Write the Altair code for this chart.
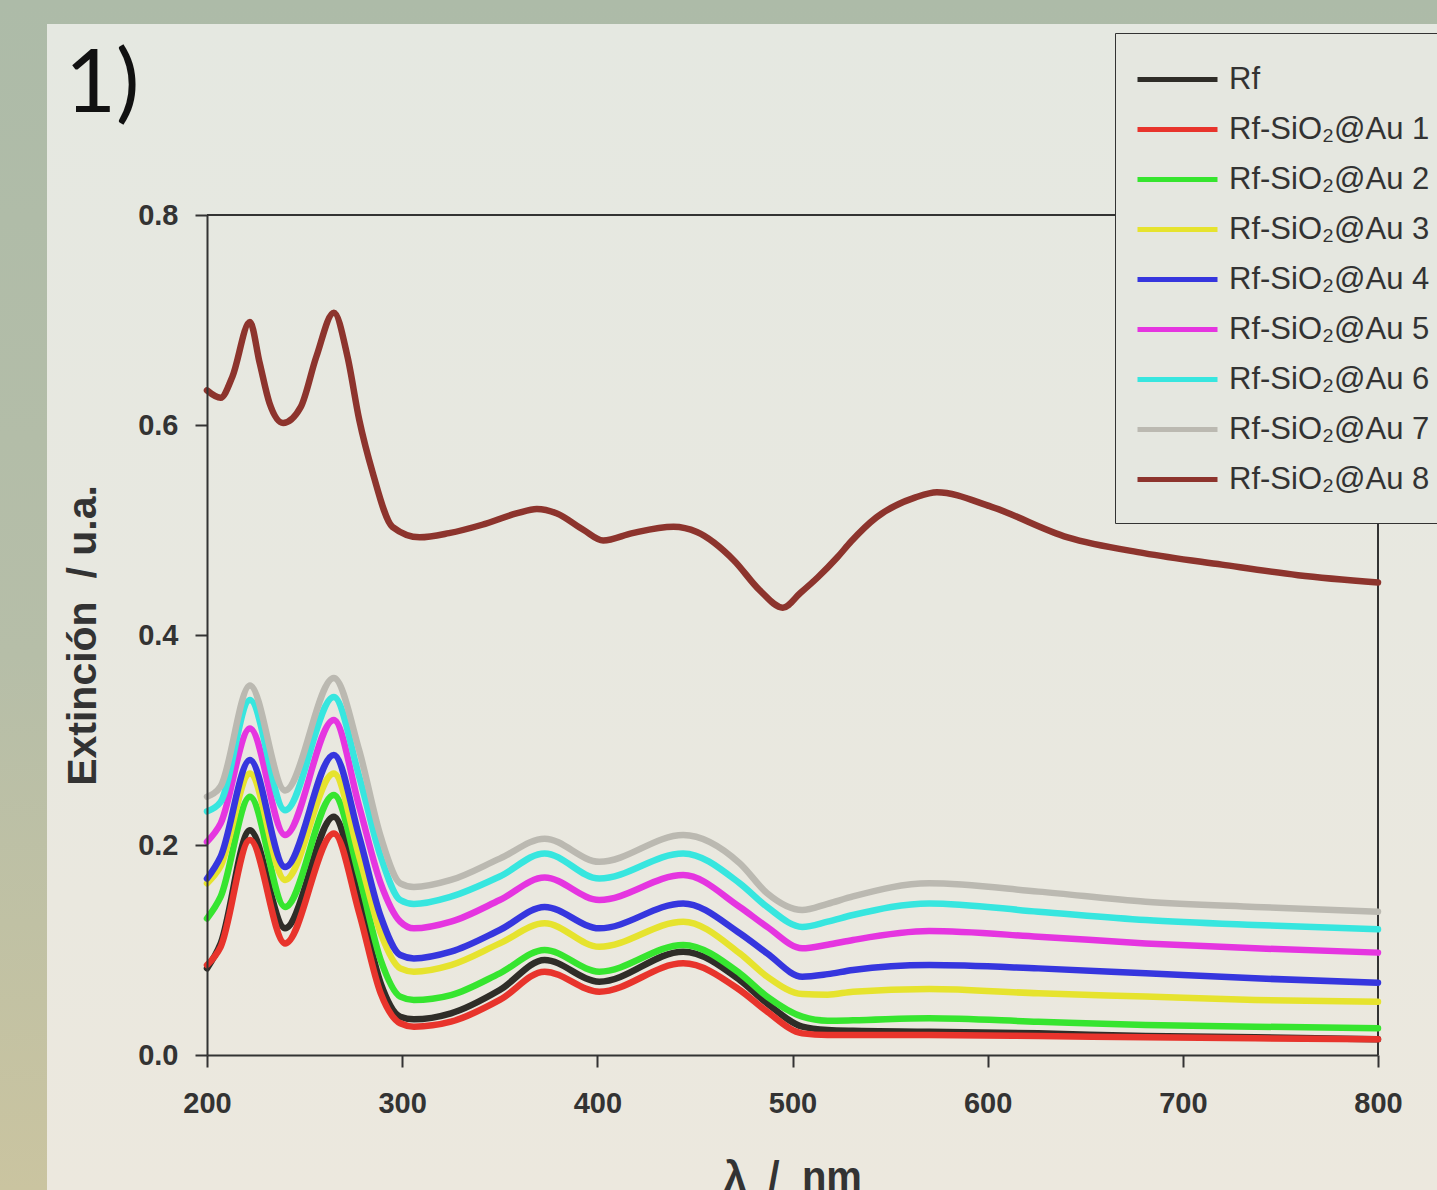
import altair as alt
import pandas as pd

# Wavelength grid (nm) for the lower family of spectra
WL = [200, 207, 222, 240, 265, 278, 289, 299, 306, 325, 350, 373, 401, 444,
      473, 487, 505, 518, 531, 570, 626, 681, 737, 800]

RF = [0.0825, 0.1063, 0.214, 0.1206, 0.227, 0.1476, 0.0683, 0.0365, 0.034, 0.0397,
      0.0619, 0.0905, 0.0698, 0.0984, 0.0714, 0.0492, 0.027, 0.0238, 0.023, 0.0222,
      0.0206, 0.0181, 0.0168, 0.015]
AU1 = [0.0857, 0.103, 0.2048, 0.1063, 0.211, 0.135, 0.0587, 0.0302, 0.027, 0.0317,
       0.0524, 0.0794, 0.0603, 0.0873, 0.0619, 0.0413, 0.0206, 0.019, 0.019, 0.019,
       0.0181, 0.0168, 0.0159, 0.015]
AU2 = [0.130, 0.1508, 0.246, 0.141, 0.2476, 0.170, 0.0905, 0.0556, 0.0524, 0.0571,
       0.0778, 0.100, 0.0794, 0.1048, 0.0778, 0.0556, 0.0365, 0.0327, 0.033, 0.035,
       0.0317, 0.0286, 0.027, 0.0254]
AU3 = [0.1635, 0.180, 0.268, 0.1667, 0.268, 0.189, 0.116, 0.0825, 0.0794, 0.0857,
       0.1063, 0.1254, 0.103, 0.127, 0.0968, 0.0746, 0.058, 0.0575, 0.0603, 0.0629,
       0.0587, 0.0556, 0.0524, 0.0508]
AU4 = [0.168, 0.189, 0.281, 0.179, 0.2857, 0.208, 0.132, 0.0952, 0.092, 0.0984,
       0.119, 0.141, 0.1206, 0.1444, 0.116, 0.0968, 0.0746, 0.077, 0.081, 0.0857,
       0.0825, 0.0778, 0.073, 0.0689]
AU5 = [0.203, 0.2206, 0.311, 0.2095, 0.319, 0.2365, 0.1635, 0.127, 0.1206, 0.127,
       0.1476, 0.169, 0.1476, 0.1714, 0.141, 0.122, 0.1016, 0.105, 0.1095, 0.118,
       0.1127, 0.1063, 0.1016, 0.0975]
AU6 = [0.232, 0.241, 0.338, 0.233, 0.341, 0.265, 0.189, 0.1476, 0.1438, 0.1508,
       0.170, 0.192, 0.168, 0.192, 0.1635, 0.141, 0.122, 0.127, 0.1333, 0.1444,
       0.1365, 0.1286, 0.1238, 0.1197]
AU7 = [0.246, 0.256, 0.352, 0.252, 0.359, 0.290, 0.208, 0.1635, 0.160, 0.1667,
       0.187, 0.206, 0.184, 0.2095, 0.1825, 0.154, 0.138, 0.144, 0.151, 0.1635,
       0.1556, 0.146, 0.141, 0.1365]

# Au 8 has its own sampling
WL8 = [200, 207, 213, 222, 227, 232, 239, 248, 256, 265, 272, 278, 285, 295, 309,
       324, 341, 359, 369, 379, 393, 403, 418, 439, 451, 470, 483, 495, 504, 513,
       523, 530, 543, 563, 574, 602, 641, 680, 720, 759, 800]
AU8 = [0.633, 0.626, 0.646, 0.698, 0.659, 0.621, 0.602, 0.617, 0.665, 0.707, 0.665,
       0.605, 0.554, 0.503, 0.493, 0.497, 0.505, 0.516, 0.520, 0.516, 0.500, 0.490,
       0.497, 0.503, 0.498, 0.471, 0.443, 0.426, 0.440, 0.455, 0.474, 0.489, 0.512,
       0.531, 0.536, 0.522, 0.493, 0.478, 0.467, 0.457, 0.450]

SERIES = ["Rf", "Rf-SiO₂@Au 1", "Rf-SiO₂@Au 2", "Rf-SiO₂@Au 3", "Rf-SiO₂@Au 4",
          "Rf-SiO₂@Au 5", "Rf-SiO₂@Au 6", "Rf-SiO₂@Au 7", "Rf-SiO₂@Au 8"]
COLORS = ["#2f2d28", "#e8342c", "#36e52f", "#e6e32e", "#3636de",
          "#e535e0", "#37e6df", "#bbb9b1", "#8d342d"]

X_TICKS = [200, 300, 400, 500, 600, 700, 800]
Y_TICKS = [0.0, 0.2, 0.4, 0.6, 0.8]

rows = []
lower = [RF, AU1, AU2, AU3, AU4, AU5, AU6, AU7]
for i, vals in enumerate(lower):
    for w, v in zip(WL, vals):
        rows.append({"wl": w, "ext": v, "series": SERIES[i], "k": i})
for w, v in zip(WL8, AU8):
    rows.append({"wl": w, "ext": v, "series": SERIES[8], "k": 8})
df = pd.DataFrame(rows)

frame_df = pd.DataFrame({"x": [200, 800], "y": [0.8, 0.0], "x2": [800, 800], "y2": [0.8, 0.8]})
one = pd.DataFrame({"k": [0]})

AX = "#333333"
NB = "\u00a0"

xscale = alt.Scale(domain=[200, 800], nice=False, zero=False)
yscale = alt.Scale(domain=[0, 0.8], nice=False)

outer = alt.Chart(one).mark_rect(
    color=alt.Gradient(gradient="linear", x1=0, x2=0, y1=0, y2=1,
                       stops=[alt.GradientStop(color="#adbba8", offset=0),
                              alt.GradientStop(color="#b6bea8", offset=0.55),
                              alt.GradientStop(color="#cac4a0", offset=1)])
).encode(x=alt.value(-207), x2=alt.value(1230), y=alt.value(-215), y2=alt.value(975))

panel = alt.Chart(one).mark_rect(
    color=alt.Gradient(gradient="linear", x1=0, x2=0, y1=0, y2=1,
                       stops=[alt.GradientStop(color="#e5e8e1", offset=0),
                              alt.GradientStop(color="#e8e8e0", offset=0.5),
                              alt.GradientStop(color="#ece8de", offset=1)])
).encode(x=alt.value(-160), x2=alt.value(1230), y=alt.value(-191), y2=alt.value(975))

frame = alt.Chart(frame_df).mark_rule(color=AX, strokeWidth=2).encode(
    x=alt.X("x:Q", scale=xscale), x2="x2:Q",
    y=alt.Y("y:Q", scale=yscale), y2="y2:Q")

lines = alt.Chart(df).mark_line(strokeWidth=6.5, interpolate="monotone",
                                strokeCap="round", strokeJoin="round").encode(
    x=alt.X("wl:Q", scale=xscale,
            axis=alt.Axis(values=X_TICKS, format="d", title=f"λ{NB}{NB}/{NB}{NB}nm",
                          zindex=2, labelPadding=22, titleFontSize=40,
                          titleY=134, titleBaseline="alphabetic")),
    y=alt.Y("ext:Q", scale=yscale,
            axis=alt.Axis(values=Y_TICKS, format=".1f",
                          title=f"Extinción{NB}{NB}/{NB}u.a.", titleFontSize=41,
                          zindex=2, labelPadding=17,
                          titleX=-112, titleBaseline="alphabetic")),
    color=alt.Color("series:N", scale=alt.Scale(domain=SERIES, range=COLORS),
                    legend=alt.Legend(title=None, orient="none", legendX=908, legendY=-182,
                                      symbolType="M-2.5,0H2.5", symbolSize=1024,
                                      symbolStrokeWidth=5, symbolOffset=16,
                                      labelOffset=33,
                                      labelFont="Liberation Sans", labelFontSize=31,
                                      labelColor=AX, labelLimit=500,
                                      fillColor="#e5e7e0", strokeColor=AX,
                                      padding=28, rowPadding=16, zindex=3)),
    order=alt.Order("k:Q"),
)

chart = alt.layer(outer, panel, frame, lines).properties(
    width=1171, height=840,
    padding={"left": 207, "top": 215, "right": 59, "bottom": 135},
    autosize=alt.AutoSizeParams(type="none"),
    title=alt.TitleParams("1)", anchor="start", frame="group", font="Lato",
                          fontSize=88, fontWeight="normal", color="#111111",
                          dx=-142, dy=200, offset=0, baseline="alphabetic"),
).configure_view(stroke="transparent").configure(background="#b3bfac").configure_axis(
    grid=False, labelFlush=False,
    domainColor=AX, domainWidth=2, tickColor=AX, tickWidth=2, tickSize=12,
    labelFont="Liberation Sans", labelFontWeight="bold", labelFontSize=29,
    labelColor=AX,
    titleFont="Liberation Sans", titleFontWeight="bold",
    titleColor=AX,
)

chart.save("out.html", embed_options={"renderer": "svg", "actions": False})
